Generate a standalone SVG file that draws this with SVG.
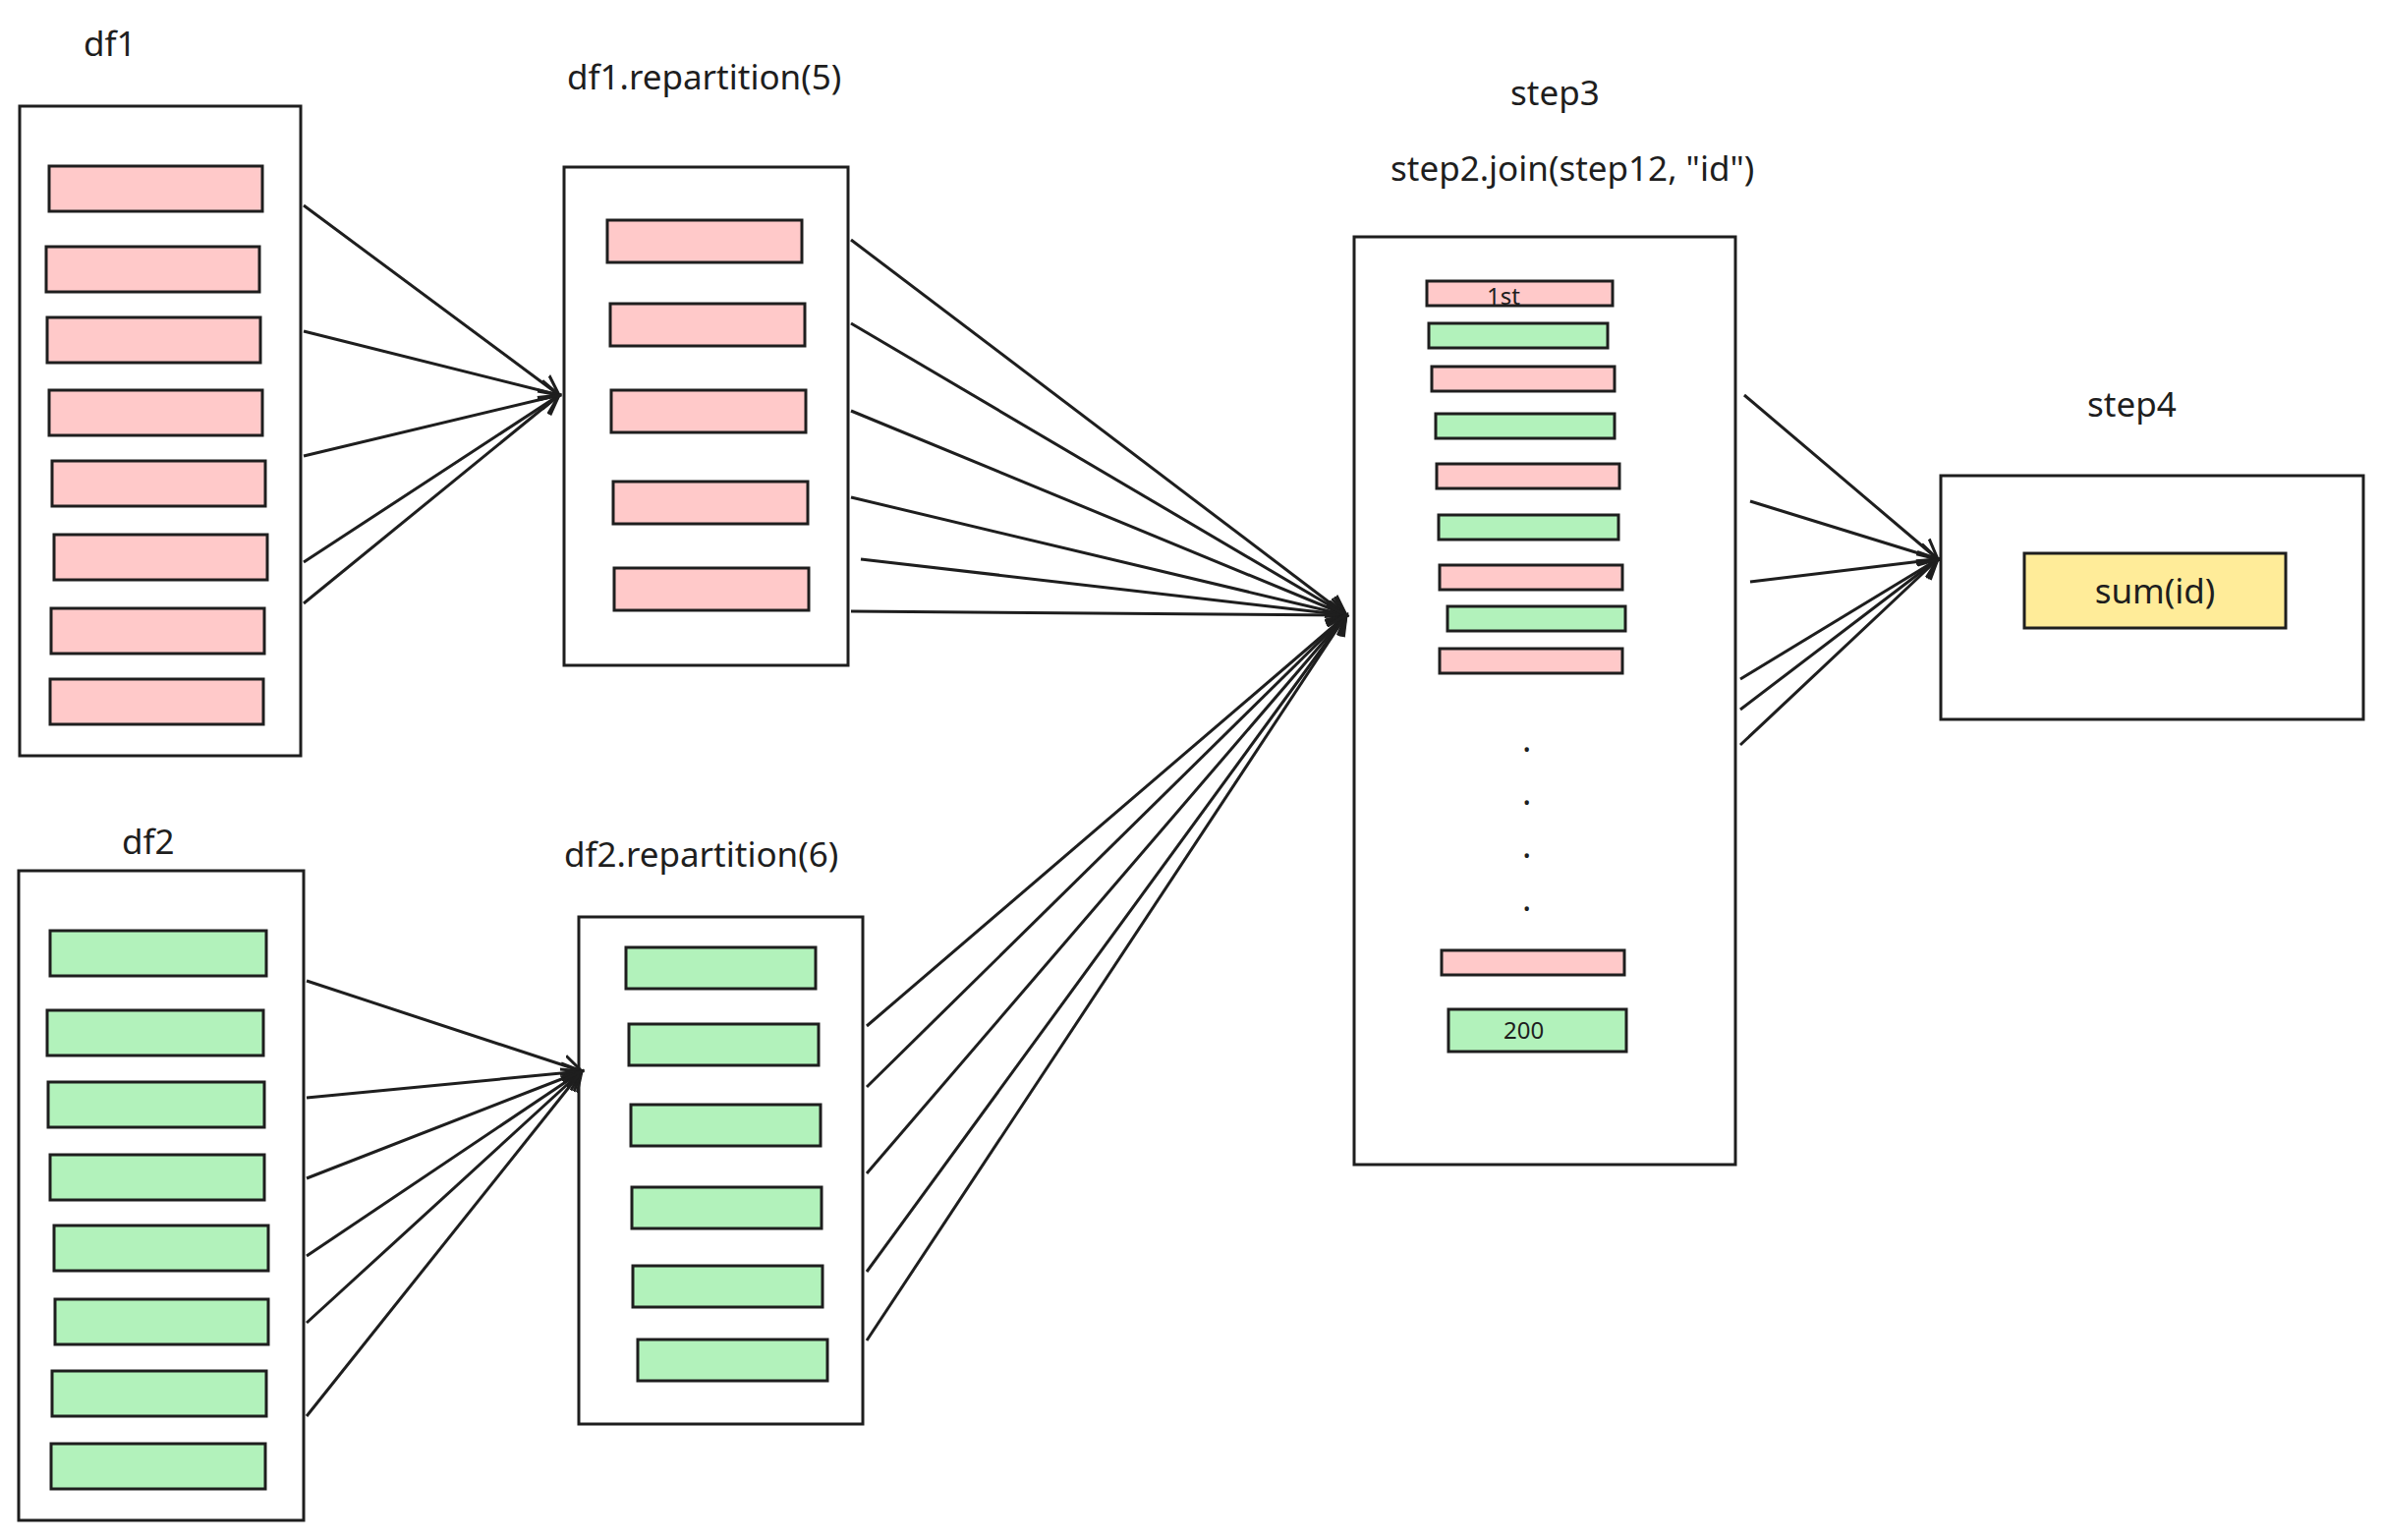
<svg xmlns="http://www.w3.org/2000/svg" width="2425" height="1567" viewBox="0 0 2425 1567">
<defs>
<style>
.box{fill:none;stroke:#1e1e1e;stroke-width:3}
.p{fill:#ffc9c9;stroke:#1e1e1e;stroke-width:3}
.g{fill:#b2f2bb;stroke:#1e1e1e;stroke-width:3}
.y{fill:#ffec99;stroke:#1e1e1e;stroke-width:3}
.t{font-family:"Noto Sans",sans-serif;font-size:35px;fill:#1e1e1e}
.s{font-family:"Noto Sans",sans-serif;font-size:24px;fill:#1e1e1e}
.c line{stroke:#1e1e1e;stroke-width:3;marker-end:url(#ah)}
</style>
<marker id="ah" markerWidth="30" markerHeight="30" refX="20" refY="10" orient="auto" markerUnits="userSpaceOnUse" viewBox="0 0 30 20">
<path d="M0,0 L20,10 L0,20" fill="none" stroke="#1e1e1e" stroke-width="3"/>
</marker>
</defs>
<rect width="2425" height="1567" fill="#fff"/>
<g id="df1">
<text class="t" x="85" y="57">df1</text>
<rect class="box" x="20" y="108" width="286" height="661"/>
<rect class="p" x="50" y="169" width="217" height="46"/>
<rect class="p" x="47" y="251" width="217" height="46"/>
<rect class="p" x="48" y="323" width="217" height="46"/>
<rect class="p" x="50" y="397" width="217" height="46"/>
<rect class="p" x="53" y="469" width="217" height="46"/>
<rect class="p" x="55" y="544" width="217" height="46"/>
<rect class="p" x="52" y="619" width="217" height="46"/>
<rect class="p" x="51" y="691" width="217" height="46"/>
</g>
<g id="df2">
<text class="t" x="124" y="869">df2</text>
<rect class="box" x="19" y="886" width="290" height="661"/>
<rect class="g" x="51" y="947" width="220" height="46"/>
<rect class="g" x="48" y="1028" width="220" height="46"/>
<rect class="g" x="49" y="1101" width="220" height="46"/>
<rect class="g" x="51" y="1175" width="218" height="46"/>
<rect class="g" x="55" y="1247" width="218" height="46"/>
<rect class="g" x="56" y="1322" width="217" height="46"/>
<rect class="g" x="53" y="1395" width="218" height="46"/>
<rect class="g" x="52" y="1469" width="218" height="46"/>
</g>
<g id="rep5">
<text class="t" x="577" y="91">df1.repartition(5)</text>
<rect class="box" x="574" y="170" width="289" height="507"/>
<rect class="p" x="618" y="224" width="198" height="43"/>
<rect class="p" x="621" y="309" width="198" height="43"/>
<rect class="p" x="622" y="397" width="198" height="43"/>
<rect class="p" x="624" y="490" width="198" height="43"/>
<rect class="p" x="625" y="578" width="198" height="43"/>
</g>
<g id="rep6">
<text class="t" x="574" y="882">df2.repartition(6)</text>
<rect class="box" x="589" y="933" width="289" height="516"/>
<rect class="g" x="637" y="964" width="193" height="42"/>
<rect class="g" x="640" y="1042" width="193" height="42"/>
<rect class="g" x="642" y="1124" width="193" height="42"/>
<rect class="g" x="643" y="1208" width="193" height="42"/>
<rect class="g" x="644" y="1288" width="193" height="42"/>
<rect class="g" x="649" y="1363" width="193" height="42"/>
</g>
<g id="step3">
<text class="t" x="1537" y="107">step3</text>
<text class="t" x="1415" y="184">step2.join(step12, "id")</text>
<rect class="box" x="1378" y="241" width="388" height="944"/>
<rect class="p" x="1452" y="286" width="189" height="25"/>
<rect class="g" x="1454" y="329" width="182" height="25"/>
<rect class="p" x="1457" y="373" width="186" height="25"/>
<rect class="g" x="1461" y="421" width="182" height="25"/>
<rect class="p" x="1462" y="472" width="186" height="25"/>
<rect class="g" x="1464" y="524" width="183" height="25"/>
<rect class="p" x="1465" y="575" width="186" height="25"/>
<rect class="g" x="1473" y="617" width="181" height="25"/>
<rect class="p" x="1465" y="660" width="186" height="25"/>
<text class="t" x="1549" y="765">.</text>
<text class="t" x="1549" y="819">.</text>
<text class="t" x="1549" y="873">.</text>
<text class="t" x="1549" y="927">.</text>
<rect class="p" x="1467" y="967" width="186" height="25"/>
<rect class="g" x="1474" y="1027" width="181" height="43"/>
<text class="s" x="1513" y="310">1st</text>
<text class="s" x="1530" y="1057">200</text>
</g>
<g id="step4">
<text class="t" x="2124" y="424">step4</text>
<rect class="box" x="1975" y="484" width="430" height="248"/>
<rect class="y" x="2060" y="563" width="266" height="76"/>
<text class="t" x="2193" y="614" text-anchor="middle">sum(id)</text>
</g>
<g id="connectors" class="c">
<line x1="309" y1="209" x2="569" y2="402"/>
<line x1="309" y1="337" x2="569" y2="402"/>
<line x1="309" y1="464" x2="569" y2="402"/>
<line x1="309" y1="572" x2="569" y2="402"/>
<line x1="309" y1="614" x2="569" y2="402"/>
<line x1="312" y1="998" x2="592" y2="1090"/>
<line x1="312" y1="1117" x2="592" y2="1090"/>
<line x1="312" y1="1199" x2="592" y2="1090"/>
<line x1="312" y1="1278" x2="592" y2="1090"/>
<line x1="312" y1="1346" x2="592" y2="1090"/>
<line x1="312" y1="1441" x2="592" y2="1090"/>
<line x1="866" y1="244" x2="1370" y2="626"/>
<line x1="866" y1="329" x2="1370" y2="626"/>
<line x1="866" y1="418" x2="1370" y2="626"/>
<line x1="866" y1="506" x2="1370" y2="626"/>
<line x1="876" y1="569" x2="1370" y2="626"/>
<line x1="866" y1="622" x2="1370" y2="626"/>
<line x1="882" y1="1044" x2="1370" y2="626"/>
<line x1="882" y1="1106" x2="1370" y2="626"/>
<line x1="882" y1="1194" x2="1370" y2="626"/>
<line x1="882" y1="1294" x2="1370" y2="626"/>
<line x1="882" y1="1364" x2="1370" y2="626"/>
<line x1="1775" y1="402" x2="1972" y2="569"/>
<line x1="1781" y1="510" x2="1972" y2="569"/>
<line x1="1781" y1="592" x2="1972" y2="569"/>
<line x1="1771" y1="691" x2="1972" y2="569"/>
<line x1="1771" y1="722" x2="1972" y2="569"/>
<line x1="1771" y1="758" x2="1972" y2="569"/>
</g>
</svg>
